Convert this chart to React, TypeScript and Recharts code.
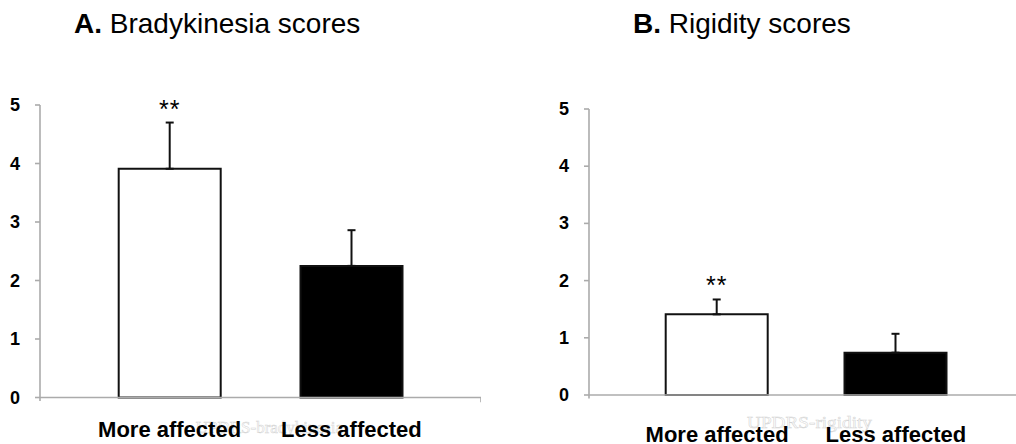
import React from 'react';
import { BarChart, Bar, XAxis, YAxis, ErrorBar, Cell, ReferenceLine } from 'recharts';

const categories = ['More affected', 'Less affected'];
const bradyValues = [3.91, 2.25];
const bradyErrors = [0.79, 0.61];
const rigidValues = [1.41, 0.74];
const rigidErrors = [0.26, 0.33];
const significance = ['**', ''];
const yTicks = [0, 1, 2, 3, 4, 5];
const barFills = ['#ffffff', '#000000'];

const build = (vals: number[], errs: number[]) =>
  categories.map((c, i) => ({ name: c, value: vals[i], err: [0, errs[i]], e: errs[i], sig: significance[i] }));

const bradyData = build(bradyValues, bradyErrors);
const rigidData = build(rigidValues, rigidErrors);

const SANS = '"Liberation Sans", Arial, Helvetica, sans-serif';
const SERIF = '"Liberation Serif", "Times New Roman", serif';
const AXIS = '#ababab';

function makeSigLabel(data: any[]) {
  return (p: any) => {
    const { x, y, width, height, value, index } = p;
    const idx = typeof index === 'number' ? index : data.findIndex((d) => d.value === value);
    const d = data[idx];
    if (!d || !d.sig) return null;
    const pxPerUnit = Number(height) / Number(d.value);
    const errTop = Number(y) - d.e * pxPerUnit;
    return (
      <text x={Number(x) + Number(width) / 2} y={errTop - 5} textAnchor="middle" fontSize={25} letterSpacing={1} fontFamily={SANS} fill="#000">
        {d.sig}
      </text>
    );
  };
}

const yTick = (p: any) => (
  <text x={p.x} y={p.y} dy={6} textAnchor="end" fontSize={18} fontWeight="bold" fontFamily={SANS} fill="#000">
    {p.payload.value}
  </text>
);

function Panel({ data, left, width, top, axisY, labelDy }: any) {
  const xTick = (p: any) => (
    <text x={p.x} y={p.y} dy={labelDy} textAnchor="middle" fontSize={22} fontWeight="bold" fontFamily={SANS} fill="#000">
      {p.payload.value}
    </text>
  );
  return (
    <div style={{ position: 'absolute', left, top: 0 }}>
      <BarChart width={width} height={444} data={data} margin={{ top, right: 0, bottom: 0, left: 0 }}>
        <XAxis
          dataKey="name"
          padding={{ left: 38.7, right: 38.7 }}
          axisLine={{ stroke: AXIS, strokeWidth: 1.6 }}
          tickLine={false}
          tickSize={0}
          tickMargin={0}
          height={444 - axisY}
          interval={0}
          tick={xTick}
        />
        <XAxis xAxisId="frame" type="number" domain={[0, 1]} hide />
        <YAxis
          domain={[0, 5]}
          ticks={yTicks}
          interval={0}
          width={40}
          axisLine={{ stroke: AXIS, strokeWidth: 1.6 }}
          tickLine={{ stroke: AXIS, strokeWidth: 1.6 }}
          tickSize={5}
          tickMargin={15}
          tick={yTick}
        />
        <ReferenceLine xAxisId="frame" segment={[{ x: 0, y: 0 }, { x: 0, y: -0.06 }]} ifOverflow="visible" stroke={AXIS} strokeWidth={1.6} />
        <ReferenceLine xAxisId="frame" segment={[{ x: 1, y: 0 }, { x: 1, y: -0.08 }]} ifOverflow="visible" stroke={AXIS} strokeWidth={1.6} />
        <Bar dataKey="value" barSize={102} stroke="#111" strokeWidth={2} isAnimationActive={false} label={makeSigLabel(data)}>
          {data.map((_: any, i: number) => (
            <Cell key={i} fill={barFills[i]} />
          ))}
          <ErrorBar dataKey="err" direction="y" width={4} stroke="#111" strokeWidth={2} isAnimationActive={false} />
        </Bar>
      </BarChart>
    </div>
  );
}

export default function App() {
  return (
    <div style={{ position: 'absolute', left: 0, top: 0, width: 1016, height: 444, overflow: 'hidden', background: '#fff' }}>
      <svg width={1016} height={444} style={{ position: 'absolute', left: 0, top: 0 }}>
        <text x={343} y={433} textAnchor="end" fontSize={17} fontFamily={SERIF} fill="#fff" stroke="#d2d2d2" strokeWidth={0.5}>
          UPDRS-bradykinesia
        </text>
        <text x={747} y={428} fontSize={17} textLength={125} lengthAdjust="spacingAndGlyphs" fontFamily={SERIF} fill="#fff" stroke="#d2d2d2" strokeWidth={0.5}>
          UPDRS-rigidity
        </text>
      </svg>
      <Panel data={bradyData} left={0} width={481} top={105} axisY={397.5} labelDy={39.5} />
      <Panel data={rigidData} left={549} width={475} top={109} axisY={395} labelDy={47} />
      <svg width={1016} height={60} style={{ position: 'absolute', left: 0, top: 0 }}>
        <text x={74} y={33} fontSize={28} fontFamily={SANS} fill="#000">
          <tspan fontWeight="bold">A.</tspan> Bradykinesia scores
        </text>
        <text x={633} y={33} fontSize={28} fontFamily={SANS} fill="#000">
          <tspan fontWeight="bold">B.</tspan> Rigidity scores
        </text>
      </svg>
    </div>
  );
}
